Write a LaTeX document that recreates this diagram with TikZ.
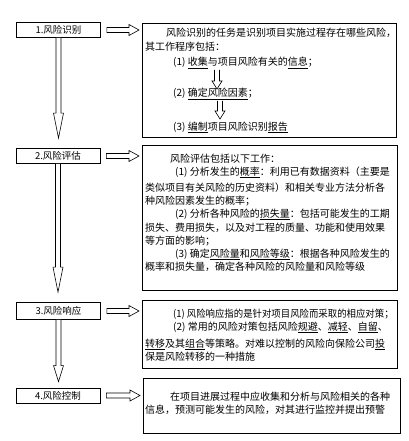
\documentclass[tikz,border=0pt]{standalone}
\usepackage{fontspec}
\setmainfont{Noto Sans CJK SC}
\usetikzlibrary{calc}
\tikzset{
  lbox/.style={draw, line width=0.8pt, minimum width=84pt, minimum height=15pt, inner sep=0pt, font=\fontsize{9.5}{11}\selectfont},
  rbox/.style={draw, line width=0.9pt, anchor=north west, inner sep=0pt},
  txt/.style={anchor=base west, inner sep=0pt, font=\fontsize{10}{12}\selectfont},
  hollow/.style={draw, line width=0.6pt, fill=white, line join=miter},
}
\newcommand{\hollowH}[2]{%
  \draw[hollow] let \p1=(#1), \p2=(#2) in
    (\x1+6pt,\y1+2.5pt) -- (\x2-13pt,\y1+2.5pt) -- (\x2-13pt,\y1+5.5pt) -- (\x2-3pt,\y1)
    -- (\x2-13pt,\y1-5.5pt) -- (\x2-13pt,\y1-2.5pt) -- (\x1+6pt,\y1-2.5pt) -- cycle;}
\newcommand{\hollowV}[4]{%
  \draw[hollow] let \p1=(#1), \p2=(#2) in
    (\x1-2.5pt,\y1) -- (\x1-2.5pt,\y2+#3+#4) -- (\x1-5pt,\y2+#3+#4) -- (\x1,\y2+#3)
    -- (\x1+5pt,\y2+#3+#4) -- (\x1+2.5pt,\y2+#3+#4) -- (\x1+2.5pt,\y1);}
\begin{document}
\begin{tikzpicture}[x=1pt,y=-1pt]
\useasboundingbox (0,0) rectangle (408,441);

% left boxes
\node[lbox] (L1) at (58.5,30) {1.风险识别};
\node[lbox] (L2) at (58,156) {2.风险评估};
\node[lbox, minimum height=17pt] (L3) at (58.5,311) {3.风险响应};
\node[lbox] (L4) at (58,395.5) {4.风险控制};

% right boxes
\node[rbox, minimum width=254pt, minimum height=114pt] (R1) at (142,23) {};
\node[rbox, minimum width=255pt, minimum height=145pt] (R2) at (142,145) {};
\node[rbox, minimum width=255pt, minimum height=68pt] (R3) at (142,300) {};
\node[rbox, line width=1.2pt, minimum width=257pt, minimum height=55pt] (R4) at (143,378) {};

% box 1 text
\node[txt] (t11) at (166,37) {风险识别的任务是识别项目实施过程存在哪些风险，};
\node[txt] (t12) at (145,51) {其工作程序包括：};
\node[txt] (t13) at (173,66) {(1) \underline{收集}与项目风险有关的\underline{信息}；};
\node[txt] (t14) at (173,97) {(2) \underline{确定风险因素}；};
\node[txt] (t15) at (173,130) {(3) \underline{编制}项目风险识别\underline{报告}};
\coordinate (s1a) at (217,70);
\coordinate (s1b) at (217,89);
\coordinate (s2a) at (220,101);
\coordinate (s2b) at (220,119);
\hollowV{s1a}{s1b}{0pt}{8pt}
\hollowV{s2a}{s2b}{0pt}{8pt}

% box 2 text
\node[txt] (t21) at (170,162) {风险评估包括以下工作：};
\node[txt] (t22) at (175,175) {(1) 分析发生的\underline{概率}：利用已有数据资料（主要是};
\node[txt] (t23) at (145,191) {类似项目有关风险的历史资料）和相关专业方法分析各};
\node[txt] (t24) at (145,204) {种风险因素发生的概率；};
\node[txt] (t25) at (175,217) {(2) 分析各种风险的\underline{损失量}：包括可能发生的工期};
\node[txt] (t26) at (145,231) {损失、费用损失，以及对工程的质量、功能和使用效果};
\node[txt] (t27) at (145,244) {等方面的影响；};
\node[txt] (t28) at (175,257) {(3) 确定\underline{风险量}和\underline{风险等级}：根据各种风险发生的};
\node[txt] (t29) at (145,270) {概率和损失量，确定各种风险的风险量和风险等级};

% box 3 text
\node[txt] (t31) at (173,317) {\scalebox{0.94}[1]{(1) 风险响应指的是针对项目风险而采取的相应对策；}};
\node[txt] (t32) at (173,330) {(2) 常用的风险对策包括风险\underline{规避}、\underline{减轻}、\underline{自留}、};
\node[txt] (t33) at (145,347) {\underline{转移}及其\underline{组合}等策略。对难以控制的风险向保险公司\underline{投}};
\node[txt] (t34) at (145,360) {保是风险转移的一种措施};

% box 4 text
\node[txt] (t41) at (170,400) {在项目进展过程中应收集和分析与风险相关的各种};
\node[txt] (t42) at (145,413) {信息，预测可能发生的风险，对其进行监控并提出预警};

% horizontal arrows
\hollowH{L1.east}{R1.west}
\hollowH{L2.east}{R2.west}
\hollowH{L3.east}{R3.west}
\hollowH{L4.east}{R4.west}

% vertical arrows
\hollowV{L1.south}{L2.north}{10pt}{25pt}
\hollowV{L2.south}{L3.north}{10pt}{25pt}
\hollowV{L3.south}{L4.north}{6pt}{16pt}
\end{tikzpicture}
\end{document}
